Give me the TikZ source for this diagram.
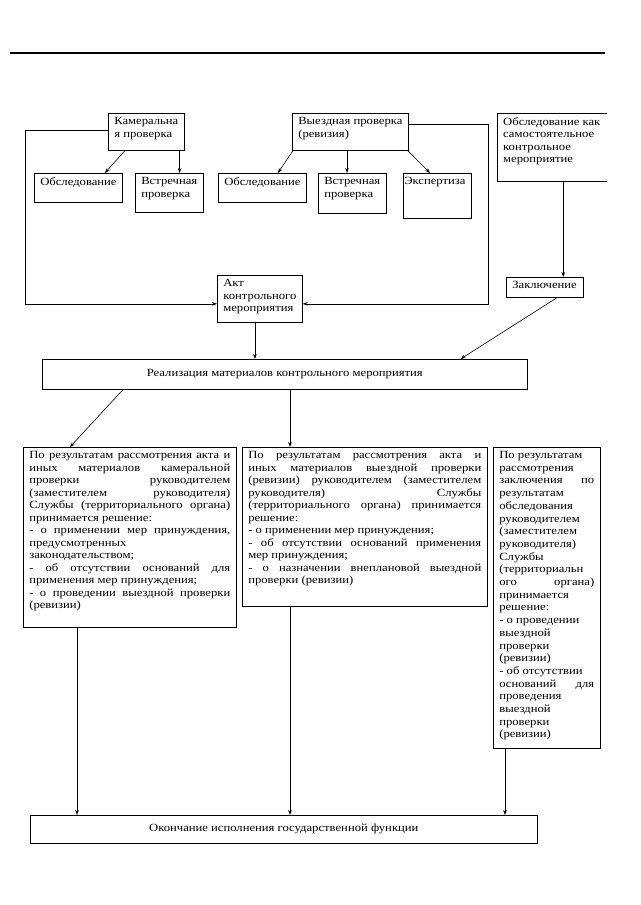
\documentclass[tikz,border=0pt]{standalone}
\usepackage{fontspec}
\setmainfont{Liberation Serif}[FakeStretch=1.15]
\usetikzlibrary{arrows.meta,calc}
\newcommand{\fs}{\fontsize{11}{12.5}\selectfont}
\newcommand{\jln}[1]{\hbox to\hsize{#1}}
\newcommand{\nln}[1]{\hbox{#1}}
\newcommand{\tb}[3]{\parbox[t][#1pt][t]{#2pt}{#3}}
\tikzset{
  box/.style={draw, line width=0.6pt, inner xsep=6pt, inner ysep=4pt, anchor=north west, font=\fs},
  openbox/.style={inner xsep=6pt, inner ysep=4pt, anchor=north west, font=\fs},
  cbox/.style={draw, line width=0.6pt, inner sep=0pt, anchor=north west, font=\fs, align=center},
  arr/.style={-{Stealth[length=5pt,width=3.6pt]}, line width=0.6pt},
  ln/.style={line width=0.6pt}
}
\begin{document}
\begin{tikzpicture}[x=1pt,y=-1pt]
\useasboundingbox (0,0) rectangle (640,905);
\fill[white] (0,0) rectangle (640,905);
% top rule
\draw[line width=1.1pt] (10,53) -- (605,53);

% top row
\node[box] (kam) at (108,113) {\tb{29}{66}{\nln{Камеральна}\nln{я проверка}}};
\node[box] (vyezd) at (292,113) {\tb{29}{110}{\nln{Выездная проверка}\nln{(ревизия)}}};
\node[openbox] (obsk) at (497,113) {\tb{60}{95}{\nln{Обследование как}\nln{самостоятельное}\nln{контрольное}\nln{мероприятие}}};
\draw[ln] (obsk.north east) -- (obsk.north west) -- (obsk.south west) -- (obsk.south east);

% second row
\node[box] (obs1) at (34,173) {\tb{21}{80}{\nln{Обследование}}};
\node[box] (vstr1) at (135,173) {\tb{31}{62}{\nln{Встречная}\nln{проверка}}};
\node[box] (obs2) at (218,173) {\tb{21}{80}{\nln{Обследование}}};
\node[box] (vstr2) at (318,173) {\tb{32}{68}{\nln{Встречная}\nln{проверка}}};
\node[box] (eksp) at (403,173) {\tb{37}{67}{\nln{\hspace*{-5pt}Экспертиза}}};

% act and conclusion
\node[box] (akt) at (217,275) {\tb{39}{90}{\nln{Акт}\nln{контрольного}\nln{мероприятия}}};
\node[box] (zakl) at (506,277) {\tb{12}{61}{\nln{Заключение}}};

% realization
\node[cbox, minimum width=485pt, minimum height=30pt] (real) at (42,359) {Реализация материалов контрольного мероприятия};

% decision boxes
\node[box] (dec1) at (23,447) {\tb{172}{201}{%
\jln{По результатам рассмотрения акта и}
\jln{иных материалов камеральной}
\jln{проверки руководителем}
\jln{(заместителем руководителя)}
\jln{Службы (территориального органа)}
\nln{принимается решение:}
\jln{- о применении мер принуждения,}
\nln{предусмотренных}
\nln{законодательством;}
\jln{- об отсутствии оснований для}
\nln{применения мер принуждения;}
\jln{- о проведении выездной проверки}
\nln{(ревизии)}}};

\node[box] (dec2) at (242,447) {\tb{151}{233}{%
\jln{По результатам рассмотрения акта и}
\jln{иных материалов выездной проверки}
\jln{(ревизии) руководителем (заместителем}
\jln{руководителя) Службы}
\jln{(территориального органа) принимается}
\nln{решение:}
\nln{- о применении мер принуждения;}
\jln{- об отсутствии оснований применения}
\nln{мер принуждения;}
\jln{- о назначении внеплановой выездной}
\nln{проверки (ревизии)}}};

\node[box] (dec3) at (493,447) {\tb{293}{95}{\baselineskip=12.7pt
\nln{По результатам}
\nln{рассмотрения}
\jln{заключения по}
\nln{результатам}
\nln{обследования}
\nln{руководителем}
\nln{(заместителем}
\nln{руководителя)}
\nln{Службы}
\nln{(территориальн}
\jln{ого органа)}
\nln{принимается}
\nln{решение:}
\nln{- о проведении}
\nln{выездной}
\nln{проверки}
\nln{(ревизии)}
\nln{- об отсутствии}
\jln{оснований для}
\nln{проведения}
\nln{выездной}
\nln{проверки}
\nln{(ревизии)}}};

% end box
\node[cbox, minimum width=507pt, minimum height=28pt] (endb) at (30,815) {Окончание исполнения государственной функции};

% loop coordinates
\coordinate (lc) at (25,0);
\coordinate (rc) at (488,0);

% connectors
\draw[arr] ([xshift=17pt]kam.south west) -- ([xshift=-18pt]obs1.north east);
\draw[arr] ([xshift=-5pt]kam.south east) -- ([xshift=-5pt]kam.south east |- vstr1.north);
\draw[arr] ([yshift=1.5pt]kam.west) -- ([yshift=1.5pt]kam.west -| lc) |- ([yshift=-5pt]akt.west);
\draw[arr] ([xshift=1pt]vyezd.south west) -- ([xshift=-29pt]obs2.north east);
\draw[arr] ([xshift=55pt]vyezd.south west) -- ([xshift=55pt]vyezd.south west |- vstr2.north);
\draw[arr] ([xshift=-1pt]vyezd.south east) -- ([xshift=27pt]eksp.north west);
\draw[arr] ([yshift=8pt]vyezd.east) -| ([yshift=-5pt]akt.east -| rc) -- ([yshift=-5pt]akt.east);
\draw[arr] ([xshift=-5pt]akt.south) -- ([xshift=-5pt]akt.south |- real.north);
\draw[arr] ([xshift=11.5pt]obsk.south) -- ([xshift=11.5pt]obsk.south |- zakl.north);
\draw[arr] ([xshift=-26pt]zakl.south east) -- ([xshift=-67pt]real.north east);
\draw[arr] ([xshift=81pt]real.south west) -- ([xshift=47pt]dec1.north west);
\draw[arr] ([xshift=248pt]real.south west) -- ([xshift=248pt]real.south west |- dec2.north);
\draw[arr] ([xshift=54pt]dec1.south west) -- ([xshift=54pt]dec1.south west |- endb.north);
\draw[arr] ([xshift=48pt]dec2.south west) -- ([xshift=48pt]dec2.south west |- endb.north);
\draw[arr] ([xshift=12pt]dec3.south west) -- ([xshift=12pt]dec3.south west |- endb.north);
\end{tikzpicture}
\end{document}
